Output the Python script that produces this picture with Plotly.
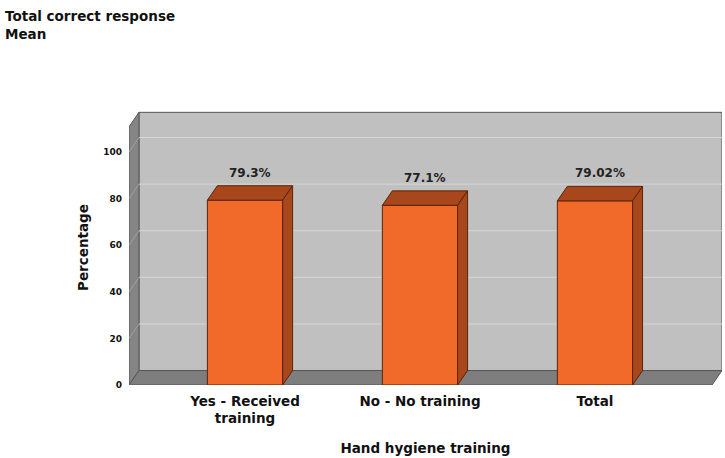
import plotly.graph_objects as go

# ---- data ----
categories = ["Yes - Received<br>training", "No - No training", "Total"]
values = [79.3, 77.1, 79.02]
value_labels = ["79.3%", "77.1%", "79.02%"]
y_ticks = [0, 20, 40, 60, 80, 100]

# ---- styling / geometry (pseudo-3D) ----
FONT = "DejaVu Sans"
ORANGE = "#F26A2A"
DARK_ORANGE = "#A8461C"
EDGE = "#5A2408"
WALL = "#C0C0C0"
SIDE_WALL = "#858585"
FLOOR = "#7E7E7E"
WALL_EDGE = "#555555"
GRID = "#D6D6D6"

x_lo, x_hi = -0.663, 2.726
y_top = 118
dx, dy = 0.057, 6.2          # depth offset in data units
wall_top = 117
bar_w = 0.43

def path(pts):
    return "M " + " L ".join(f"{x},{y}" for x, y in pts) + " Z"

shapes = []
# back wall
shapes.append(dict(type="path", xref="x", yref="y", layer="below",
                   path=path([(x_lo + dx, dy), (x_hi, dy), (x_hi, wall_top), (x_lo + dx, wall_top)]),
                   fillcolor=WALL, line=dict(color=WALL_EDGE, width=1)))
# left wall
shapes.append(dict(type="path", xref="x", yref="y", layer="below",
                   path=path([(x_lo, 0), (x_lo + dx, dy), (x_lo + dx, wall_top), (x_lo, wall_top - dy)]),
                   fillcolor=SIDE_WALL, line=dict(color=WALL_EDGE, width=1)))
# gridlines on back wall and left wall
for t in y_ticks[1:]:
    shapes.append(dict(type="line", xref="x", yref="y", layer="below",
                       x0=x_lo + dx, x1=x_hi, y0=t + dy, y1=t + dy,
                       line=dict(color=GRID, width=1)))
    shapes.append(dict(type="line", xref="x", yref="y", layer="below",
                       x0=x_lo, x1=x_lo + dx, y0=t, y1=t + dy,
                       line=dict(color="#A0A0A0", width=1)))
# floor
shapes.append(dict(type="path", xref="x", yref="y", layer="below",
                   path=path([(x_lo, 0), (x_hi - dx, 0), (x_hi, dy), (x_lo + dx, dy)]),
                   fillcolor=FLOOR, line=dict(color=WALL_EDGE, width=1)))

fig = go.Figure()
xs = list(range(len(categories)))
fig.add_trace(go.Bar(x=xs, y=values, width=bar_w,
                     marker=dict(color=ORANGE, line=dict(color=EDGE, width=1)),
                     hoverinfo="skip", showlegend=False))

for xc, v in zip(xs, values):
    l, r = xc - bar_w / 2, xc + bar_w / 2
    # top face
    fig.add_trace(go.Scatter(x=[l, r, r + dx, l + dx, l], y=[v, v, v + dy, v + dy, v],
                             fill="toself", fillcolor=DARK_ORANGE, mode="lines",
                             line=dict(color=EDGE, width=1), hoverinfo="skip", showlegend=False))
    # side face
    fig.add_trace(go.Scatter(x=[r, r + dx, r + dx, r, r], y=[0, dy, v + dy, v, 0],
                             fill="toself", fillcolor=DARK_ORANGE, mode="lines",
                             line=dict(color=EDGE, width=1), hoverinfo="skip", showlegend=False))

annotations = []
for xc, v, lab in zip(xs, values, value_labels):
    annotations.append(dict(x=xc + dx / 2, y=v + dy, xref="x", yref="y", text=lab,
                            showarrow=False, yanchor="bottom", yshift=4,
                            font=dict(family=FONT, size=12, color="#222222", weight="bold")))

# chart title (top-left corner)
annotations.append(dict(text="Total correct response<br>Mean", xref="paper", yref="paper",
                        x=(3 - 129) / 593, y=1 + (110 - 6) / 275,
                        xanchor="left", yanchor="top", align="left", showarrow=False,
                        font=dict(family=FONT, size=13.5, color="#111111", weight="bold")))

fig.update_layout(
    width=725, height=458,
    margin=dict(l=129, r=3, t=110, b=73),
    paper_bgcolor="white", plot_bgcolor="white",
    shapes=shapes, annotations=annotations,
    xaxis=dict(range=[x_lo, x_hi], tickvals=xs, ticktext=categories,
               showgrid=False, zeroline=False, showline=False, ticks="",
               ticklabelstandoff=6,
               tickfont=dict(family=FONT, size=13.5, color="#111111", weight="bold"),
               title=dict(text="Hand hygiene training", standoff=18,
                          font=dict(family=FONT, size=13.5, color="#111111", weight="bold"))),
    yaxis=dict(range=[0, y_top], tickvals=y_ticks, ticktext=[str(t) for t in y_ticks],
               showgrid=False, zeroline=False, showline=False, ticks="",
               ticklabelstandoff=6,
               tickfont=dict(family=FONT, size=9, color="#111111", weight="bold"),
               title=dict(text="Percentage", standoff=11,
                          font=dict(family=FONT, size=13.5, color="#111111", weight="bold"))),
)

fig.write_html("out.html")
